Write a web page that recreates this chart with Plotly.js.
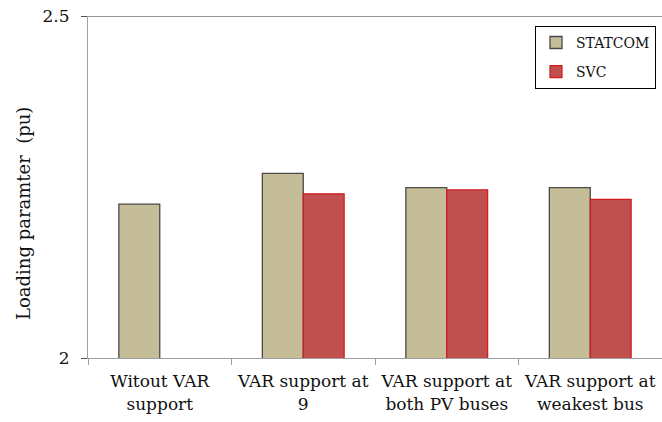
<!DOCTYPE html>
<html>
<head>
<meta charset="utf-8">
<script src="https://cdn.plot.ly/plotly-3.0.1.min.js"></script>
<style>html,body{margin:0;padding:0;background:#fff;}#chart{width:662px;height:422px;}</style>
</head>
<body>
<div id="chart"></div>
<script>
const categories = ["Witout VAR<br>support", "VAR support at<br>9", "VAR support at<br>both PV buses", "VAR support at<br>weakest bus"];
const statcom = [2.225, 2.270, 2.249, 2.249];
const svc = [null, 2.240, 2.246, 2.232];
const yTicks = [2, 2.5];
const yTickText = ["2", "2.5"];

const font = "DejaVu Serif";
const traces = [
  {type: "bar", name: "STATCOM", x: categories, y: statcom, legendgroup: "a",
   marker: {color: "#C4BD97", line: {color: "#4a4a4a", width: 1.3}}},
  {type: "bar", name: "SVC", x: categories, y: svc, legendgroup: "b",
   marker: {color: "#C0504D", line: {color: "#d41a1a", width: 1.2}}}
];
const layout = {
  width: 662, height: 422,
  margin: {l: 88, r: 0, t: 16, b: 64},
  paper_bgcolor: "#fff", plot_bgcolor: "#fff",
  font: {family: font, color: "#111", size: 17},
  barmode: "group", bargap: 0.43, bargroupgap: 0,
  showlegend: true,
  legend: {x: 0.9895, xanchor: "right", y: 0.971, yanchor: "top",
           bordercolor: "#000", borderwidth: 1, bgcolor: "#fff", itemwidth: 30,
           font: {family: font, size: 14, color: "#111"},
           traceorder: "grouped", tracegroupgap: 8},
  xaxis: {type: "category", range: [-0.5, 3.5], showline: true, linecolor: "#a0a0a0", linewidth: 1,
          ticks: "outside", tickson: "boundaries", ticklen: 6, tickcolor: "#a0a0a0",
          ticklabelstandoff: 8,
          showgrid: false, tickfont: {family: font, size: 17, color: "#111"}, fixedrange: true},
  yaxis: {range: [2, 2.5], tickvals: yTicks, ticktext: yTickText, showline: true, linecolor: "#a0a0a0", linewidth: 1,
          ticks: "outside", ticklen: 6, tickcolor: "#555", showgrid: true, gridcolor: "#2a2a2a", gridwidth: 1,
          zeroline: false, ticklabelstandoff: 8, tickfont: {family: font, size: 17, color: "#111"}, fixedrange: true},
  shapes: [{type: "line", xref: "paper", yref: "y", x0: 0, x1: 1, y0: yTicks[1], y1: yTicks[1],
            line: {color: "#2a2a2a", width: 1}}],
  annotations: [{text: "Loading paramter  (pu)", xref: "paper", yref: "paper",
                 x: (23 - 88) / 574, y: (358 - 214) / 342, xanchor: "center", yanchor: "middle",
                 textangle: -90, showarrow: false, font: {family: font, size: 18, color: "#111"}}]
};
Plotly.newPlot("chart", traces, layout, {displayModeBar: false, staticPlot: true});
</script>
</body>
</html>
